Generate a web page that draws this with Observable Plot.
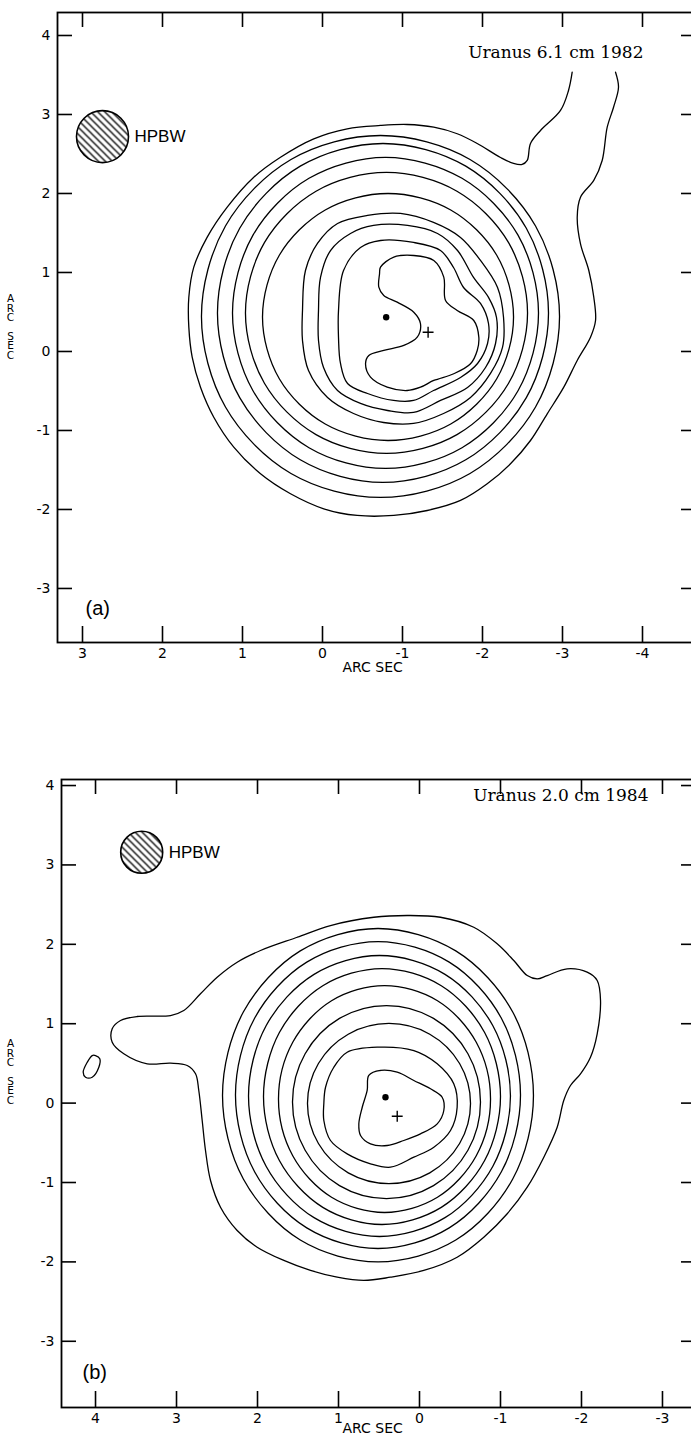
<!DOCTYPE html>
<html><head><meta charset="utf-8">
<script src="https://cdn.jsdelivr.net/npm/d3@7"></script>
<script src="https://cdn.jsdelivr.net/npm/@observablehq/plot@0.6"></script>
<style>
html,body{margin:0;padding:0;background:#fff;overflow:hidden;width:691px;height:1437px}
#wrap{position:relative;width:691px;height:1437px;overflow:hidden}
.panel{position:absolute;left:0;max-width:none !important}
</style></head><body>
<svg width="0" height="0" style="position:absolute"><defs>
<pattern id="hatch" patternUnits="userSpaceOnUse" width="7" height="7"><path d="M-1,-1L8,8M-1,6L1,8M6,-1L8,1" stroke="#000" stroke-width="1.3"/></pattern>
</defs></svg>
<div id="wrap"></div>
<script>
// ---------- Panel (a): Uranus 6.1 cm 1982 (arc sec) ----------
const titleA = "Uranus 6.1 cm 1982";
const xTicksA = [3, 2, 1, 0, -1, -2, -3, -4];
const yTicksA = [4, 3, 2, 1, 0, -1, -2, -3];
const beamA = [{x: 2.75, y: 2.72}];
const dotA = [{x: -0.796, y: 0.434}];
const plusA = [{x: -1.32, y: 0.244}];
const a_c1 = [[-0.725,1.067],[-0.891,1.194],[-1.141,1.215],[-1.391,1.152],[-1.516,0.941],[-1.538,0.646],[-1.684,0.519],[-1.891,0.392],[-1.954,0.181],[-1.934,0.013],[-1.85,-0.156],[-1.641,-0.282],[-1.391,-0.367],[-1.225,-0.452],[-1.059,-0.494],[-0.809,-0.452],[-0.6,-0.325],[-0.538,-0.156],[-0.579,-0.051],[-0.766,0.013],[-1.016,0.076],[-1.184,0.181],[-1.225,0.351],[-1.141,0.497],[-0.934,0.624],[-0.766,0.709],[-0.704,0.814],[-0.713,0.984]];
const a_c2 = [[-0.2,0.519],[-0.263,1.025],[-0.475,1.316],[-0.725,1.405],[-1.138,1.38],[-1.475,1.278],[-1.638,1.063],[-1.763,0.81],[-1.975,0.608],[-2.075,0.354],[-2.063,0.101],[-1.938,-0.152],[-1.725,-0.329],[-1.388,-0.494],[-1.138,-0.62],[-0.888,-0.62],[-0.563,-0.532],[-0.313,-0.405],[-0.225,-0.152],[-0.2,0.177]];
const a_c3 = [[0.05,0.519],[0.025,0.937],[-0.1,1.278],[-0.35,1.494],[-0.638,1.595],[-1.063,1.595],[-1.438,1.494],[-1.688,1.278],[-1.888,0.937],[-2.075,0.684],[-2.175,0.43],[-2.163,0.101],[-2.038,-0.203],[-1.813,-0.456],[-1.475,-0.62],[-1.138,-0.772],[-0.813,-0.747],[-0.475,-0.658],[-0.188,-0.494],[-0.013,-0.203],[0.05,0.139]];
const a_c4 = [[0.25,0.519],[0.213,1.025],[0.063,1.367],[-0.188,1.62],[-0.563,1.722],[-0.975,1.747],[-1.388,1.633],[-1.725,1.443],[-1.975,1.152],[-2.188,0.81],[-2.263,0.43],[-2.25,0.051],[-2.1,-0.278],[-1.85,-0.582],[-1.513,-0.785],[-1.138,-0.911],[-0.763,-0.899],[-0.388,-0.785],[-0.063,-0.582],[0.175,-0.241],[0.25,0.139]];
const a_c5 = [[-2.388,0.437],[-2.178,1.218],[-1.603,1.791],[-0.819,2.0],[-0.034,1.791],[0.54,1.218],[0.75,0.437],[0.54,-0.345],[-0.034,-0.918],[-0.819,-1.127],[-1.603,-0.918],[-2.178,-0.345]];
const a_c6 = [[-2.563,0.487],[-2.326,1.377],[-1.681,2.028],[-0.8,2.266],[0.081,2.028],[0.726,1.377],[0.963,0.487],[0.726,-0.402],[0.081,-1.053],[-0.8,-1.291],[-1.681,-1.053],[-2.326,-0.402]];
const a_c7 = [[-2.7,0.487],[-2.444,1.472],[-1.744,2.192],[-0.788,2.456],[0.169,2.192],[0.869,1.472],[1.125,0.487],[0.869,-0.497],[0.169,-1.218],[-0.788,-1.481],[-1.744,-1.218],[-2.444,-0.497]];
const a_c8 = [[-2.825,0.487],[-2.548,1.56],[-1.791,2.346],[-0.756,2.633],[0.278,2.346],[1.035,1.56],[1.313,0.487],[1.035,-0.585],[0.278,-1.371],[-0.756,-1.658],[-1.791,-1.371],[-2.548,-0.585]];
const a_c9 = [[-2.963,0.443],[-2.663,1.589],[-1.844,2.43],[-0.725,2.734],[0.394,2.43],[1.213,1.589],[1.513,0.443],[1.213,-0.703],[0.394,-1.544],[-0.725,-1.848],[-1.844,-1.544],[-2.663,-0.703]];
const a_c10 = [[-3.121,3.535],[-3.075,3.304],[-2.975,3.051],[-2.725,2.797],[-2.6,2.633],[-2.559,2.418],[-2.496,2.367],[-2.388,2.38],[-2.225,2.456],[-1.934,2.633],[-1.684,2.756],[-1.391,2.839],[-1.059,2.873],[-0.725,2.861],[-0.309,2.819],[0.109,2.692],[0.525,2.459],[0.859,2.206],[1.191,1.827],[1.441,1.447],[1.609,1.067],[1.671,0.687],[1.671,0.308],[1.629,-0.072],[1.525,-0.452],[1.359,-0.832],[1.109,-1.211],[0.775,-1.548],[0.4,-1.801],[-0.016,-1.991],[-0.434,-2.076],[-0.891,-2.076],[-1.309,-2.013],[-1.725,-1.886],[-2.059,-1.675],[-2.35,-1.422],[-2.6,-1.127],[-2.809,-0.789],[-3.016,-0.452],[-3.184,-0.114],[-3.35,0.181],[-3.413,0.392],[-3.391,0.687],[-3.329,1.025],[-3.225,1.363],[-3.184,1.7],[-3.225,1.953],[-3.391,2.165],[-3.496,2.418],[-3.559,2.839],[-3.638,3.092],[-3.7,3.346],[-3.663,3.535]];

// ---------- Panel (b): Uranus 2.0 cm 1984 (arc sec) ----------
const titleB = "Uranus 2.0 cm 1984";
const xTicksB = [4, 3, 2, 1, 0, -1, -2, -3];
const yTicksB = [4, 3, 2, 1, 0, -1, -2, -3];
const beamB = [{x: 3.43, y: 3.16}];
const dotB = [{x: 0.42, y: 0.074}];
const plusB = [{x: 0.275, y: -0.165}];
const b_c1 = [[0.626,0.348],[0.481,0.411],[0.275,0.389],[0.07,0.285],[-0.136,0.18],[-0.28,0.074],[-0.3,-0.093],[-0.219,-0.261],[-0.012,-0.387],[0.194,-0.471],[0.399,-0.534],[0.605,-0.513],[0.728,-0.408],[0.749,-0.261],[0.707,-0.052],[0.646,0.159]];
const b_c2 = [[1.181,-0.005],[1.16,0.2],[1.058,0.452],[0.893,0.641],[0.522,0.704],[0.07,0.662],[-0.219,0.495],[-0.423,0.243],[-0.465,-0.052],[-0.383,-0.345],[-0.177,-0.555],[0.07,-0.681],[0.358,-0.807],[0.605,-0.764],[0.893,-0.639],[1.099,-0.471],[1.181,-0.219]];
const b_c3 = [[-0.63,-0.005],[-0.495,0.499],[-0.127,0.868],[0.377,1.003],[0.88,0.868],[1.248,0.499],[1.383,-0.005],[1.248,-0.509],[0.88,-0.878],[0.377,-1.013],[-0.127,-0.878],[-0.495,-0.509]];
const b_c4 = [[-0.753,0.014],[-0.598,0.622],[-0.173,1.067],[0.407,1.229],[0.988,1.067],[1.412,0.622],[1.568,0.014],[1.412,-0.594],[0.988,-1.039],[0.407,-1.202],[-0.173,-1.039],[-0.598,-0.594]];
const b_c5 = [[-0.877,0.052],[-0.701,0.766],[-0.222,1.29],[0.432,1.481],[1.086,1.29],[1.565,0.766],[1.741,0.052],[1.565,-0.663],[1.086,-1.186],[0.432,-1.378],[-0.222,-1.186],[-0.701,-0.663]];
const b_c6 = [[-1.0,0.083],[-0.804,0.889],[-0.269,1.479],[0.463,1.695],[1.194,1.479],[1.73,0.889],[1.926,0.083],[1.73,-0.723],[1.194,-1.313],[0.463,-1.529],[-0.269,-1.313],[-0.804,-0.723]];
const b_c7 = [[-1.123,0.089],[-0.906,0.974],[-0.315,1.622],[0.494,1.859],[1.302,1.622],[1.894,0.974],[2.111,0.089],[1.894,-0.795],[1.302,-1.443],[0.494,-1.68],[-0.315,-1.443],[-0.906,-0.795]];
const b_c8 = [[-1.247,0.102],[-1.011,1.069],[-0.367,1.776],[0.512,2.035],[1.392,1.776],[2.036,1.069],[2.272,0.102],[2.036,-0.865],[1.392,-1.572],[0.512,-1.831],[-0.367,-1.572],[-1.011,-0.865]];
const b_c9 = [[-1.407,0.096],[-1.151,1.147],[-0.448,1.917],[0.512,2.199],[1.472,1.917],[2.175,1.147],[2.432,0.096],[2.175,-0.956],[1.472,-1.725],[0.512,-1.999],[-0.448,-1.725],[-1.151,-0.956]];
const b_c10 = [[1.099,2.237],[1.51,2.089],[1.963,1.922],[2.251,1.775],[2.498,1.586],[2.704,1.377],[2.91,1.166],[3.074,1.103],[3.485,1.091],[3.691,1.04],[3.794,0.936],[3.794,0.767],[3.651,0.621],[3.362,0.495],[3.074,0.503],[2.868,0.474],[2.765,0.369],[2.725,0.159],[2.683,-0.219],[2.642,-0.597],[2.58,-0.975],[2.457,-1.311],[2.251,-1.604],[2.004,-1.815],[1.675,-1.982],[1.346,-2.108],[1.016,-2.193],[0.688,-2.234],[0.358,-2.193],[-0.053,-2.108],[-0.465,-1.941],[-0.794,-1.689],[-1.083,-1.394],[-1.33,-1.059],[-1.535,-0.681],[-1.7,-0.304],[-1.781,0.033],[-1.864,0.222],[-1.988,0.369],[-2.111,0.578],[-2.194,0.873],[-2.235,1.292],[-2.194,1.544],[-2.07,1.649],[-1.823,1.691],[-1.577,1.607],[-1.453,1.565],[-1.33,1.607],[-1.164,1.796],[-0.959,2.006],[-0.67,2.215],[-0.259,2.341],[0.152,2.363],[0.564,2.341]];
const b_islet = [[4.0,0.599],[3.947,0.558],[3.959,0.452],[4.041,0.326],[4.123,0.326],[4.152,0.389],[4.102,0.515],[4.041,0.599]];

const fmt = d => String(d);
const W = 700;

function rowsOf(list) {
  const rows = [];
  list.forEach((c, i) => c.forEach(([x, y]) => rows.push({x, y, id: i})));
  return rows;
}

function makePanel(cfg) {
  const mL = cfg.mL, mR = 4, mT = 12, mB = cfg.mB;
  const fw = W - mL - mR, fh = cfg.fh;
  const H = mT + fh + mB;
  const svg = Plot.plot({
    width: W, height: H, marginLeft: mL, marginRight: mR, marginTop: mT, marginBottom: mB,
    x: {domain: cfg.xDomain},
    y: {domain: cfg.yDomain},
    style: {fontFamily: "DejaVu Sans", fontSize: "14px", background: "transparent", color: "#000", maxWidth: "none"},
    marks: [
      Plot.line(rowsOf(cfg.closed), {x: "x", y: "y", z: "id", curve: "catmull-rom-closed", stroke: "#000", strokeWidth: 1.3}),
      Plot.line(rowsOf(cfg.open), {x: "x", y: "y", z: "id", curve: "catmull-rom", stroke: "#000", strokeWidth: 1.3}),
      Plot.tickX(cfg.xTicks, {x: d => d, insetTop: fh - 16, stroke: "#000", strokeWidth: 1.6}),
      Plot.tickX(cfg.xTicks, {x: d => d, insetBottom: fh - 15, stroke: "#000", strokeWidth: 1.6}),
      Plot.tickY(cfg.yTicks, {y: d => d, insetRight: fw - 15, stroke: "#000", strokeWidth: 1.6}),
      Plot.tickY(cfg.yTicks, {y: d => d, insetLeft: fw - 15, stroke: "#000", strokeWidth: 1.6}),
      Plot.axisX(cfg.xTicks, {anchor: "bottom", tickSize: 0, tickPadding: 6, tickFormat: fmt, fontSize: 14, label: null}),
      Plot.axisY(cfg.yTicks, {anchor: "left", tickSize: 0, tickPadding: 7, tickFormat: fmt, fontSize: 14, label: null}),
      Plot.frame({stroke: "#000", strokeWidth: 1.8}),
      Plot.dot(cfg.beam, {x: "x", y: "y", r: cfg.beamR, fill: "url(#hatch)", stroke: "#000", strokeWidth: 1.6}),
      Plot.text(cfg.beam, {x: "x", y: "y", text: () => "HPBW", dx: cfg.beamR + 6, textAnchor: "start", fontSize: 17, fontFamily: "Liberation Sans", ariaLabel: "hpbw"}),
      Plot.dot(cfg.dot, {x: "x", y: "y", r: 3.2, fill: "#000"}),
      Plot.dot(cfg.plus, {x: "x", y: "y", symbol: "plus", r: 3.6, stroke: "#000", strokeWidth: 1.4}),
      Plot.text([cfg.title], {text: d => d, frameAnchor: "top-right", dx: cfg.titleDx, dy: cfg.titleDy, textAnchor: "end", lineAnchor: "middle", fontSize: 17, fontFamily: "DejaVu Serif"}),
      Plot.text([cfg.tag], {text: d => d, frameAnchor: "bottom-left", dx: cfg.tagDx, dy: cfg.tagDy, textAnchor: "start", lineAnchor: "middle", fontSize: 20, fontFamily: "Liberation Sans"}),
      Plot.text(["ARC SEC"], {text: d => d, frameAnchor: "bottom-left", dx: cfg.xlabDx, dy: cfg.xlabDy, textAnchor: "start", lineAnchor: "middle", fontSize: 14, ariaLabel: "xlabel"}),
      Plot.text(["A\nR\nC\n\nS\nE\nC"], {text: d => d, frameAnchor: "left", dx: cfg.ylabDx, dy: cfg.ylabDy, textAnchor: "middle", lineAnchor: "middle", lineHeight: 0.9, fontSize: 10.5})
    ]
  });
  d3.select(svg).selectAll('g[aria-label="xlabel"] text').attr("letter-spacing", 1);
  d3.select(svg).selectAll('g[aria-label="hpbw"] text').attr("letter-spacing", 1);
  return svg;
}

const wrap = document.getElementById("wrap");
const pa = makePanel({
  mL: 57, mB: 40, fh: 630,
  xDomain: [3.3125, -4.675], yDomain: [-3.684, 4.291],
  xTicks: xTicksA, yTicks: yTicksA,
  closed: [a_c1, a_c2, a_c3, a_c4, a_c5, a_c6, a_c7, a_c8, a_c9], open: [a_c10],
  beam: beamA, beamR: 26, dot: dotA, plus: plusA,
  title: titleA, titleDx: -53, titleDy: 40,
  tag: "(a)", tagDx: 28, tagDy: -34,
  xlabDx: 285, xlabDy: 25, ylabDx: -47, ylabDy: 0
});
pa.classList.add("panel"); pa.style.top = "0px";
wrap.appendChild(pa);

const pb = makePanel({
  mL: 61, mB: 30, fh: 628,
  xDomain: [4.42, -3.42], yDomain: [-3.834, 4.076],
  xTicks: xTicksB, yTicks: yTicksB,
  closed: [b_c1, b_c2, b_c3, b_c4, b_c5, b_c6, b_c7, b_c8, b_c9, b_c10, b_islet], open: [],
  beam: beamB, beamR: 21, dot: dotB, plus: plusB,
  title: titleB, titleDx: -48, titleDy: 16,
  tag: "(b)", tagDx: 21, tagDy: -35,
  xlabDx: 281, xlabDy: 21, ylabDx: -51, ylabDy: -21
});
pb.classList.add("panel"); pb.style.top = "767px";
wrap.appendChild(pb);
</script>
</body></html>
